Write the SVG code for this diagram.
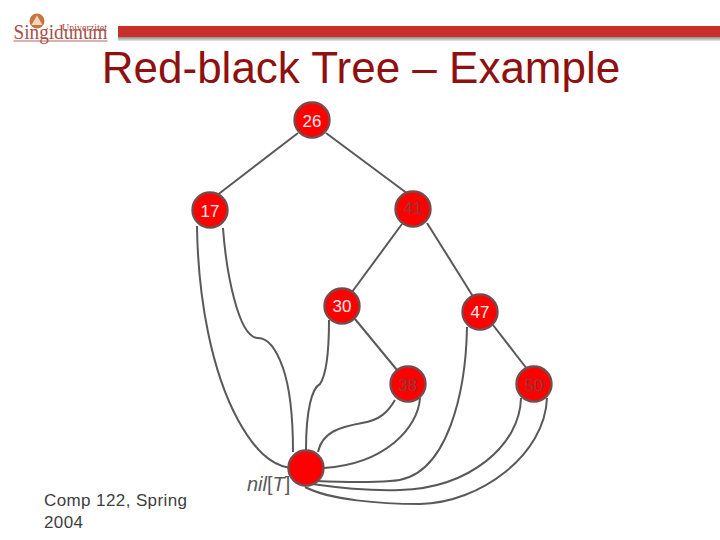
<svg xmlns="http://www.w3.org/2000/svg" width="720" height="540" viewBox="0 0 720 540">
<defs>
<linearGradient id="shadow" x1="0" y1="0" x2="0" y2="1"><stop offset="0" stop-color="#8a8a8a"/><stop offset="1" stop-color="#e8e8e8"/></linearGradient>
</defs>
<style>
.edge{fill:none;stroke:#595959;stroke-width:2}
.node{fill:#fe0000;stroke:#7a4a4a;stroke-width:2.4}
.t{font-family:"Liberation Sans",Arial,sans-serif;font-size:17px;text-anchor:middle}
.w{fill:#fbeaea}
.d{fill:#8c3a3a}
.logo{font-family:"Liberation Serif","Times New Roman",serif;fill:#a8504a}
</style>
<rect width="720" height="540" fill="#fff"/>
<g id="logo">
<circle cx="37" cy="21" r="7.500" fill="#c9743f"/>
<path d="M37 15.500L42.500 25H31.500Z" fill="#f0d8c0"/>
<text class="logo" x="13.500" y="39" font-size="21" textLength="94" lengthAdjust="spacingAndGlyphs">Singidunum</text>
<text class="logo" x="62" y="31" font-size="10" textLength="45" lengthAdjust="spacingAndGlyphs">Univerzitet</text>
<rect x="13.500" y="40.500" width="94" height="1" fill="#b5655f"/>
</g>
<g id="header-bar">
<rect x="118" y="37" width="602" height="4" fill="url(#shadow)"/>
<rect x="118" y="26" width="602" height="11" fill="#c9302a"/>
</g>
<text id="title" x="361" y="83" font-family="'Liberation Sans',Arial,sans-serif" font-size="44" fill="#8f1010" text-anchor="middle">Red-black Tree – Example</text>
<g id="connectors">
<path class="edge" d="M298 133L216 196"/>
<path class="edge" d="M326 133L408 194"/>
<path class="edge" d="M402 224L352 292"/>
<path class="edge" d="M427 223L474 298"/>
<path class="edge" d="M355 319L397 370"/>
<path class="edge" d="M493 325L527 369"/>
<path class="edge" d="M197 226C198 300 212 372 238 420C254 449 270 465 290 468"/>
<path class="edge" d="M223 228C226 270 238 338 258 338C268 338 276 348 283 368C292 394 293 430 293 452"/>
<path class="edge" d="M329 320C329 345 328 372 320 384C312 388 306 410 306 450"/>
<path class="edge" d="M395 400C388 412 380 420 362 423C340 427 322 432 318 452"/>
<path class="edge" d="M420 398C418 428 385 464 324 468"/>
<path class="edge" d="M467 327C466 385 450 480 390 481C365 483 340 482 316 481"/>
<path class="edge" d="M521 398C520 445 470 488 400 490C370 491 340 488 312 484"/>
<path class="edge" d="M547 398C545 455 480 503 420 504C380 504 330 500 305 487"/>
</g>
<g id="n26"><circle class="node" cx="312" cy="120" r="17.500"/><text class="t w" x="312" y="127">26</text></g>
<g id="n17"><circle class="node" cx="210" cy="210" r="17.500"/><text class="t w" x="210" y="217">17</text></g>
<g id="n41"><circle class="node" cx="413" cy="209" r="17.500"/><text class="t d" x="413" y="214">41</text></g>
<g id="n30"><circle class="node" cx="342" cy="306" r="17.500"/><text class="t w" x="342" y="312">30</text></g>
<g id="n47"><circle class="node" cx="480" cy="312" r="17.500"/><text class="t w" x="480" y="318">47</text></g>
<g id="n38"><circle class="node" cx="408" cy="384" r="17.500"/><text class="t d" x="408" y="391">38</text></g>
<g id="n50"><circle class="node" cx="534" cy="384" r="17.500"/><text class="t d" x="534" y="391">50</text></g>
<g id="nil"><circle class="node" cx="306" cy="468" r="17.500"/></g>
<text id="nil-label" x="247" y="491" font-family="'Liberation Sans',Arial,sans-serif" font-size="20" fill="#595959"><tspan font-style="italic">nil</tspan>[<tspan font-style="italic">T</tspan>]</text>
<text id="footer" font-family="'Liberation Sans',Arial,sans-serif" font-size="17" letter-spacing="0.4" fill="#404040"><tspan x="44" y="506">Comp 122, Spring</tspan><tspan x="44" y="528">2004</tspan></text>
</svg>
